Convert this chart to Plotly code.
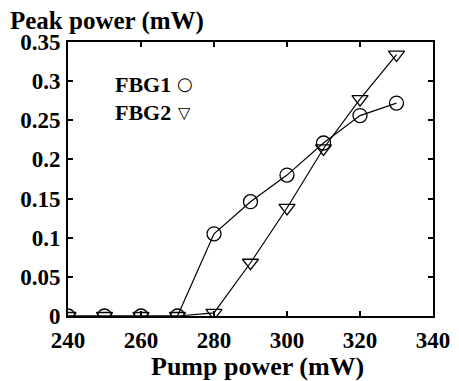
import plotly.graph_objects as go

pump = [240, 250, 260, 270, 280, 290, 300, 310, 320, 330]
fbg1 = [0, 0, 0, 0, 0.105, 0.146, 0.180, 0.221, 0.256, 0.272]
fbg2 = [0, 0, 0, 0, 0.004, 0.068, 0.138, 0.214, 0.277, 0.334]
xticks = [240, 260, 280, 300, 320, 340]
yticks = [0, 0.05, 0.1, 0.15, 0.2, 0.25, 0.3, 0.35]
ytick_text = ["0", "0.05", "0.1", "0.15", "0.2", "0.25", "0.3", "0.35"]

font = "Liberation Serif"
fig = go.Figure()
fig.add_trace(go.Scatter(x=pump, y=fbg1, mode="lines+markers", name="FBG1",
                         line=dict(color="black", width=1.2),
                         marker=dict(symbol="circle-open", size=14, color="black", line=dict(width=1.3))))
fig.add_trace(go.Scatter(x=pump, y=fbg2, mode="lines+markers", name="FBG2",
                         line=dict(color="black", width=1.2),
                         marker=dict(symbol="triangle-down-open", size=14, color="black", line=dict(width=1.3))))

axis_common = dict(showline=True, linecolor="black", linewidth=2, mirror="ticks",
                   ticks="inside", ticklen=5, tickcolor="black", tickwidth=1.5,
                   showgrid=False, zeroline=False,
                   tickfont=dict(family=font, size=23, color="black", weight="bold"))

def txt(text, x, y, size, xanchor="left", family=font, weight="bold"):
    return dict(text=text, xref="paper", yref="paper", x=x, y=y,
                xanchor=xanchor, yanchor="middle", showarrow=False,
                font=dict(family=family, size=size, color="black", weight=weight))

fig.update_layout(
    width=459, height=381,
    margin=dict(l=60, r=34, t=34, b=73),
    paper_bgcolor="white", plot_bgcolor="white",
    showlegend=False,
    xaxis=dict(range=[240, 340], tickvals=xticks, ticklabelstandoff=2, **axis_common),
    yaxis=dict(range=[0, 0.35], tickvals=yticks, ticktext=ytick_text, ticklabelstandoff=1, **axis_common),
    annotations=[
        txt("Peak power (mW)", -0.164, 1.078, 25),
        txt("Pump power (mW)", 0.52, -0.183, 26, "center"),
        txt("FBG1", 0.122, 0.846, 22),
        txt("FBG2", 0.122, 0.741, 22),
        txt("○", 0.320, 0.850, 18, "center", "DejaVu Sans", "normal"),
        txt("▽", 0.320, 0.743, 16, "center", "DejaVu Sans", "normal"),
    ],
)
fig.write_html("out.html")
